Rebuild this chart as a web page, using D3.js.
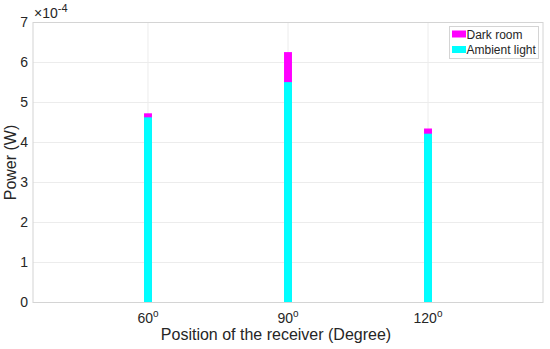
<!DOCTYPE html>
<html>
<head>
<meta charset="utf-8">
<script src="https://cdn.jsdelivr.net/npm/d3@7"></script>
<style>
  body { margin: 0; background: #fff; }
  text { font-family: "Liberation Sans", Arial, Helvetica, sans-serif; fill: #262626; }
</style>
</head>
<body>
<div id="chart"></div>
<script>
// receiver positions (degrees) and received power (W)
const positions = [60, 90, 120];
const darkRoom = [4.73e-4, 6.26e-4, 4.35e-4];
const ambientLight = [4.63e-4, 5.51e-4, 4.22e-4];
const yTicks = [0, 1e-4, 2e-4, 3e-4, 4e-4, 5e-4, 6e-4, 7e-4];
const seriesNames = ["Dark room", "Ambient light"];
const seriesColors = ["#ff00ff", "#00ffff"];

const WIDTH = 550, HEIGHT = 349;
const MARGIN = { LEFT: 33, RIGHT: 7, TOP: 22.5, BOTTOM: 46.5 };
const innerW = WIDTH - MARGIN.LEFT - MARGIN.RIGHT;
const innerH = HEIGHT - MARGIN.TOP - MARGIN.BOTTOM;

const svg = d3.select("#chart").append("svg")
    .attr("width", WIDTH)
    .attr("height", HEIGHT);

const g = svg.append("g")
    .attr("transform", `translate(${MARGIN.LEFT}, ${MARGIN.TOP})`);

const x = d3.scaleLinear()
    .domain([35.36, 144.64])
    .range([0, innerW]);

const y = d3.scaleLinear()
    .domain([0, 7e-4])
    .range([innerH, 0]);

// grid
g.selectAll(".ygrid").data(yTicks).enter().append("line")
    .attr("x1", 0).attr("x2", innerW)
    .attr("y1", d => y(d)).attr("y2", d => y(d))
    .attr("stroke", "#ececec").attr("stroke-width", 1);

g.selectAll(".xgrid").data(positions).enter().append("line")
    .attr("x1", d => x(d)).attr("x2", d => x(d))
    .attr("y1", 0).attr("y2", innerH)
    .attr("stroke", "#ececec").attr("stroke-width", 1);

// bars: dark room behind, ambient light in front
const barW = x(1.7) - x(0);
const series = [darkRoom, ambientLight];
series.forEach((vals, i) => {
    g.selectAll(".bar" + i).data(positions).enter().append("rect")
        .attr("x", d => x(d) - barW / 2)
        .attr("width", barW)
        .attr("y", (d, j) => y(vals[j]))
        .attr("height", (d, j) => innerH - y(vals[j]))
        .attr("fill", seriesColors[i]);
});

// box
g.append("rect")
    .attr("width", innerW).attr("height", innerH)
    .attr("fill", "none").attr("stroke", "#d4d4d4").attr("stroke-width", 1);

// y axis
const yAxis = g.append("g")
    .call(d3.axisLeft(y).tickValues(yTicks).tickFormat(d => Math.round(d / 1e-4)).tickSize(0).tickPadding(5));
yAxis.select(".domain").remove();
yAxis.selectAll("text")
    .style("font-size", "14px")
    .style("font-family", "'Liberation Sans', Arial, sans-serif")
    .attr("fill", "#262626");

// x axis with degree superscript
const xAxis = g.append("g")
    .attr("transform", `translate(0, ${innerH})`);
positions.forEach(p => {
    const t = xAxis.append("text")
        .attr("x", x(p))
        .attr("y", 20.5)
        .attr("text-anchor", "middle")
        .style("font-size", "14px");
    t.append("tspan").text(p);
    t.append("tspan").attr("dy", -6).style("font-size", "10px").text("o");
});

// exponent
const ex = svg.append("text")
    .attr("x", MARGIN.LEFT + 1)
    .attr("y", 18)
    .style("font-size", "14px");
ex.append("tspan").text("\u00d710");
ex.append("tspan").attr("dy", -6).style("font-size", "11px").text("-4");

// axis labels
svg.append("text")
    .attr("x", 276)
    .attr("y", 340)
    .attr("text-anchor", "middle")
    .style("font-size", "16px")
    .text("Position of the receiver (Degree)");

svg.append("text")
    .attr("transform", `translate(16, ${MARGIN.TOP + innerH / 2}) rotate(-90)`)
    .attr("text-anchor", "middle")
    .style("font-size", "16px")
    .text("Power (W)");

// legend
const legend = svg.append("g").attr("transform", "translate(449.5, 26.5)");
legend.append("rect")
    .attr("width", 89).attr("height", 32)
    .attr("fill", "#fff").attr("stroke", "#d4d4d4");
seriesNames.forEach((name, i) => {
    legend.append("rect")
        .attr("x", 2.5).attr("y", 4 + i * 15.5)
        .attr("width", 14).attr("height", 7)
        .attr("fill", seriesColors[i]);
    legend.append("text")
        .attr("x", 17).attr("y", 12 + i * 15.5)
        .style("font-size", "12px")
        .text(name);
});
</script>
</body>
</html>
